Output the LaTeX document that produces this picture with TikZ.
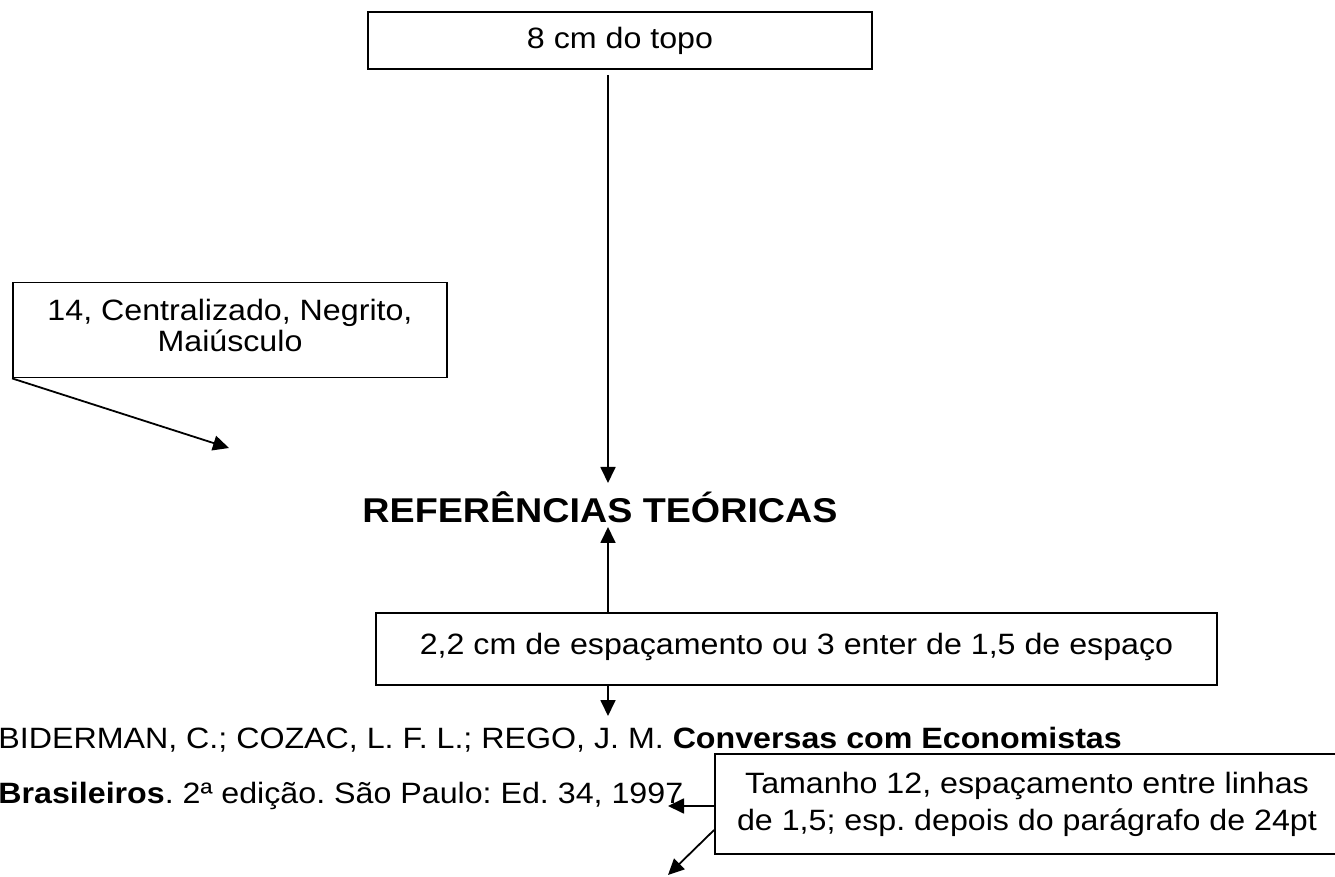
\documentclass[tikz,border=0pt]{standalone}
\usepackage{fontspec}
\setmainfont{Liberation Sans}[FakeStretch=1.095]
\usetikzlibrary{arrows.meta}
\frenchspacing
\begin{document}
\begin{tikzpicture}[x=0.5pt,y=-0.5pt,
  box/.style={draw,line width=0.9pt,inner sep=0pt,align=center,font=\fontsize{14.7}{15.5}\selectfont},
  arr/.style={line width=0.9pt,-{Triangle[length=8pt,width=7.5pt]}},
  body/.style={inner sep=0pt,font=\fontsize{14.7}{17}\selectfont}]
\useasboundingbox[fill=white] (0,0) rectangle (1335,877);
\node[box,minimum width=252pt,minimum height=28.5pt] (top) at (620,40.5) {8 cm do topo};
\node[box,minimum width=217pt,minimum height=47.5pt] (lbox) at (230,330) {\raisebox{2pt}{\begin{tabular}{@{}c@{}}14, Centralizado, Negrito,\\Maiúsculo\end{tabular}}};
\node[box,minimum width=420.5pt,minimum height=36pt] (box2) at (796.5,649) {\raisebox{5pt}{2,2 cm de espaçamento ou 3 enter de 1,5 de espaço}};
\node[box,minimum width=312pt,minimum height=50pt,font=\fontsize{14.7}{18.5}\selectfont] (box3) at (1027,804) {Tamanho 12, espaçamento entre linhas\\de 1,5; esp. depois do parágrafo de 24pt};
\node[inner sep=0pt,anchor=base,font=\fontsize{17.2}{20}\selectfont\bfseries] (title) at (600,523) {REFERÊNCIAS TEÓRICAS};
\node[body,anchor=base west] (ref1) at (-2,748) {BIDERMAN, C.; COZAC, L. F. L.; REGO, J. M. \textbf{Conversas com Economistas}};
\node[body,anchor=base west] (ref2) at (-2,803) {\textbf{Brasileiros}. 2ª edição. São Paulo: Ed. 34, 1997};
\coordinate (s1) at (608,75);
\coordinate (e1) at (608,483);
\coordinate (e2) at (608,527);
\coordinate (e3) at (608,716);
\coordinate (e4) at (229,448);
\coordinate (e5) at (668,806);
\coordinate (s6) at (715,830);
\coordinate (e6) at (668,875);
\draw[arr] (s1) -- (e1);
\draw[arr] (box2.north -| e2) -- (e2);
\draw[arr] (box2.south -| e3) -- (e3);
\draw[arr] (lbox.south west) -- (e4);
\draw[arr] (box3.west |- e5) -- (e5);
\draw[arr] (box3.west |- s6) -- (e6);
\end{tikzpicture}
\end{document}
